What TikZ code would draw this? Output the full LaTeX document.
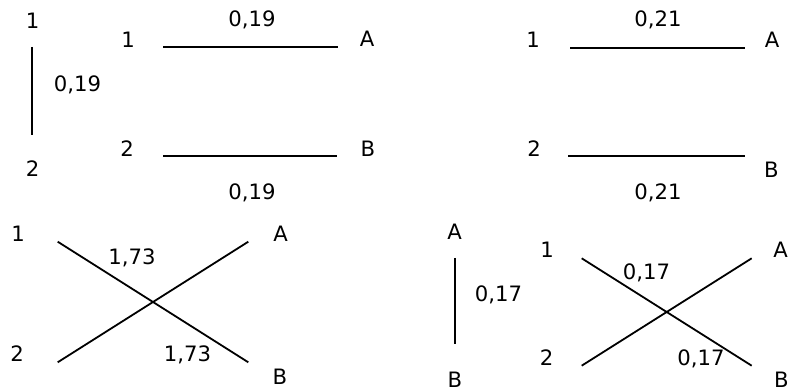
\documentclass[tikz,border=0pt]{standalone}
\usepackage{fontspec}
\setmainfont{DejaVu Sans}
\begin{document}
\begin{tikzpicture}
   [x=0.5pt,y=-0.5pt,
    lbl/.style={font=\fontsize{10.6}{12}\selectfont,anchor=base,inner sep=0pt},
    wire/.style={line width=0.9pt}]
   \useasboundingbox (0,0) rectangle (789,390);

   % top left
   \node[lbl] (a1) at (32.5,29) {1};
   \node[lbl] (a2) at (32.5,177) {2};
   \node[lbl] (av) at (77.5,92) {0,19};
   \coordinate (av1) at (32.3,47);
   \coordinate (av2) at (32.3,135);
   \draw[wire] (av1) -- (av2);

   \node[lbl] (b1) at (128,48) {1};
   \node[lbl] (b2) at (127,157) {2};
   \node[lbl] (bA) at (367,47) {A};
   \node[lbl] (bB) at (368,157) {B};
   \node[lbl] (bt) at (252,27) {0,19};
   \node[lbl] (bb) at (252,200) {0,19};
   \coordinate (b1s) at (163,47);
   \coordinate (b1e) at (338,47);
   \coordinate (b2s) at (163,156);
   \coordinate (b2e) at (337,156);
   \draw[wire] (b1s) -- (b1e);
   \draw[wire] (b2s) -- (b2e);

   % top right
   \node[lbl] (c1) at (533,48) {1};
   \node[lbl] (c2) at (534,157) {2};
   \node[lbl] (cA) at (772,48) {A};
   \node[lbl] (cB) at (771.5,178) {B};
   \node[lbl] (ct) at (658,27) {0,21};
   \node[lbl] (cb) at (658,200) {0,21};
   \coordinate (c1s) at (570,48);
   \coordinate (c1e) at (745,48);
   \coordinate (c2s) at (568,156);
   \coordinate (c2e) at (745,156);
   \draw[wire] (c1s) -- (c1e);
   \draw[wire] (c2s) -- (c2e);

   % bottom left
   \node[lbl] (d1) at (18,242) {1};
   \node[lbl] (d2) at (17,362) {2};
   \node[lbl] (dA) at (280.5,242) {A};
   \node[lbl] (dB) at (280,385) {B};
   \node[lbl] (du) at (132,265) {1,73};
   \node[lbl] (dl) at (187.5,362) {1,73};
   \coordinate (d1s) at (57.7,241.7);
   \coordinate (dBe) at (248.3,362.3);
   \coordinate (d2s) at (57.7,362.3);
   \coordinate (dAe) at (248.3,241.7);
   \draw[wire] (d1s) -- (dBe);
   \draw[wire] (d2s) -- (dAe);

   % bottom right
   \node[lbl] (eA) at (454.5,240) {A};
   \node[lbl] (eB) at (455,387) {B};
   \node[lbl] (ev) at (498.5,302) {0,17};
   \coordinate (ev1) at (455,258);
   \coordinate (ev2) at (455,344);
   \draw[wire] (ev1) -- (ev2);

   \node[lbl] (f1) at (547,258) {1};
   \node[lbl] (f2) at (546.5,365) {2};
   \node[lbl] (fA) at (780.5,258) {A};
   \node[lbl] (fB) at (781.5,387) {B};
   \node[lbl] (fu) at (646.5,280) {0,17};
   \node[lbl] (fl) at (701,365) {0,17};
   \coordinate (f1s) at (581.7,258.3);
   \coordinate (fBe) at (751.7,365.7);
   \coordinate (f2s) at (581.7,365.7);
   \coordinate (fAe) at (751.7,258.3);
   \draw[wire] (f1s) -- (fBe);
   \draw[wire] (f2s) -- (fAe);
\end{tikzpicture}
\end{document}
